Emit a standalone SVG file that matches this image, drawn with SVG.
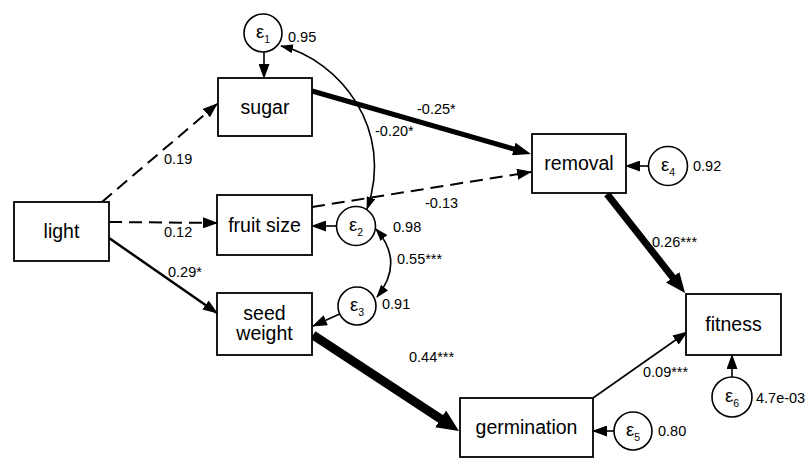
<svg xmlns="http://www.w3.org/2000/svg" width="808" height="459" viewBox="0 0 808 459">
<style>
  .box { fill: #fff; stroke: #000; stroke-width: 1.8; }
  .err { fill: #fff; stroke: #000; stroke-width: 1.6; }
  .nt { font-family: "Liberation Sans", Arial, sans-serif; font-size: 19.5px; fill: #000; text-anchor: middle; }
  .lb { font-family: "Liberation Sans", Arial, sans-serif; font-size: 14.5px; fill: #000; }
  .et { font-family: "Liberation Sans", Arial, sans-serif; font-size: 18.5px; fill: #000; text-anchor: middle; }
  .sub { font-size: 10.5px; }
  .e { fill: none; stroke: #000; }
  .dash { stroke-dasharray: 13 7; }
</style>
<defs>
  <marker id="a" markerUnits="userSpaceOnUse" markerWidth="15" markerHeight="11" refX="14" refY="5.5" orient="auto">
    <path d="M0,0 L15,5.5 L0,11 z" fill="#000"/>
  </marker>
  <marker id="am" markerUnits="userSpaceOnUse" markerWidth="18" markerHeight="13" refX="8" refY="6.5" orient="auto">
    <path d="M0,0 L18,6.5 L0,13 z" fill="#000"/>
  </marker>
  <marker id="al" markerUnits="userSpaceOnUse" markerWidth="20" markerHeight="17" refX="8" refY="8.5" orient="auto">
    <path d="M0,0 L20,8.5 L0,17 z" fill="#000"/>
  </marker>
  <marker id="ax" markerUnits="userSpaceOnUse" markerWidth="22" markerHeight="20" refX="8" refY="10" orient="auto">
    <path d="M0,0 L22,10 L0,20 z" fill="#000"/>
  </marker>
  <marker id="ac" markerUnits="userSpaceOnUse" markerWidth="13" markerHeight="9" refX="12" refY="4.5" orient="auto-start-reverse">
    <path d="M0,0 L13,4.5 L0,9 z" fill="#000"/>
  </marker>
</defs>

<g id="connectors">
  <line class="e dash" x1="102" y1="202" x2="217" y2="104" stroke-width="2" marker-end="url(#a)"/>
  <line class="e dash" x1="109" y1="222" x2="217" y2="223" stroke-width="2" marker-end="url(#a)"/>
  <line class="e" x1="109" y1="238" x2="217" y2="313" stroke-width="2.5" marker-end="url(#a)"/>
  <line class="e" x1="312" y1="91" x2="521.4" y2="151.2" stroke-width="5" marker-end="url(#am)"/>
  <line class="e dash" x1="312" y1="207" x2="531" y2="172" stroke-width="2" marker-end="url(#a)"/>
  <line class="e" x1="607" y1="194" x2="677.6" y2="283.6" stroke-width="7" marker-end="url(#al)"/>
  <line class="e" x1="313" y1="335" x2="447.3" y2="423.3" stroke-width="9" marker-end="url(#ax)"/>
  <line class="e" x1="593" y1="398" x2="687" y2="332" stroke-width="1.6" marker-end="url(#a)"/>
  <line class="e" x1="264" y1="52" x2="264" y2="78" stroke-width="1.6" marker-end="url(#a)"/>
  <line class="e" x1="336.5" y1="226" x2="312" y2="226" stroke-width="1.6" marker-end="url(#a)"/>
  <line class="e" x1="339.7" y1="314" x2="313" y2="326" stroke-width="1.6" marker-end="url(#a)"/>
  <line class="e" x1="649" y1="166" x2="626" y2="166" stroke-width="1.6" marker-end="url(#a)"/>
  <line class="e" x1="614" y1="431" x2="593" y2="431" stroke-width="1.6" marker-end="url(#a)"/>
  <line class="e" x1="732" y1="377" x2="732" y2="355" stroke-width="1.6" marker-end="url(#a)"/>
  <path class="e" d="M281,46 C340,60 395,130 367,209" stroke-width="1.6" marker-start="url(#ac)" marker-end="url(#ac)"/>
  <path class="e" d="M376,229 Q405,262 377,297" stroke-width="1.6" marker-start="url(#ac)" marker-end="url(#ac)"/>
</g>

<g id="light"><rect class="box" x="14" y="202" width="95" height="59"/><text class="nt" x="61.5" y="238">light</text></g>
<g id="sugar"><rect class="box" x="218" y="78" width="94" height="58"/><text class="nt" x="265" y="114">sugar</text></g>
<g id="fruit-size"><rect class="box" x="217" y="195" width="95" height="60"/><text class="nt" x="264.5" y="232">fruit size</text></g>
<g id="seed-weight"><rect class="box" x="217" y="293" width="95" height="62"/><text class="nt" x="264.5" y="320">seed</text><text class="nt" x="264.5" y="340">weight</text></g>
<g id="removal"><rect class="box" x="532" y="134" width="94" height="59"/><text class="nt" x="579" y="170">removal</text></g>
<g id="fitness"><rect class="box" x="686" y="294" width="95" height="61"/><text class="nt" x="733.5" y="331">fitness</text></g>
<g id="germination"><rect class="box" x="460" y="398" width="133" height="59"/><text class="nt" x="526.5" y="434">germination</text></g>

<g id="e1"><circle class="err" cx="263" cy="33" r="19"/><text class="et" x="263" y="38">ε<tspan class="sub" dy="5">1</tspan></text></g>
<g id="e2"><circle class="err" cx="356" cy="226" r="19.5"/><text class="et" x="356" y="231">ε<tspan class="sub" dy="5">2</tspan></text></g>
<g id="e3"><circle class="err" cx="357" cy="306" r="19"/><text class="et" x="357" y="311">ε<tspan class="sub" dy="5">3</tspan></text></g>
<g id="e4"><circle class="err" cx="668" cy="166" r="19.5"/><text class="et" x="668" y="171">ε<tspan class="sub" dy="5">4</tspan></text></g>
<g id="e5"><circle class="err" cx="633" cy="431" r="19"/><text class="et" x="633" y="436">ε<tspan class="sub" dy="5">5</tspan></text></g>
<g id="e6"><circle class="err" cx="732" cy="397" r="20"/><text class="et" x="732" y="402">ε<tspan class="sub" dy="5">6</tspan></text></g>

<g id="labels">
  <text class="lb" x="288" y="42">0.95</text>
  <text class="lb" x="417" y="114">-0.25*</text>
  <text class="lb" x="375" y="136">-0.20*</text>
  <text class="lb" x="164" y="164">0.19</text>
  <text class="lb" x="164" y="237">0.12</text>
  <text class="lb" x="168" y="277">0.29*</text>
  <text class="lb" x="425" y="208">-0.13</text>
  <text class="lb" x="393" y="232">0.98</text>
  <text class="lb" x="397" y="264">0.55***</text>
  <text class="lb" x="382" y="309">0.91</text>
  <text class="lb" x="693" y="171">0.92</text>
  <text class="lb" x="652" y="247">0.26***</text>
  <text class="lb" x="409" y="362">0.44***</text>
  <text class="lb" x="643" y="377">0.09***</text>
  <text class="lb" x="658" y="436">0.80</text>
  <text class="lb" x="756" y="403">4.7e-03</text>
</g>
</svg>
